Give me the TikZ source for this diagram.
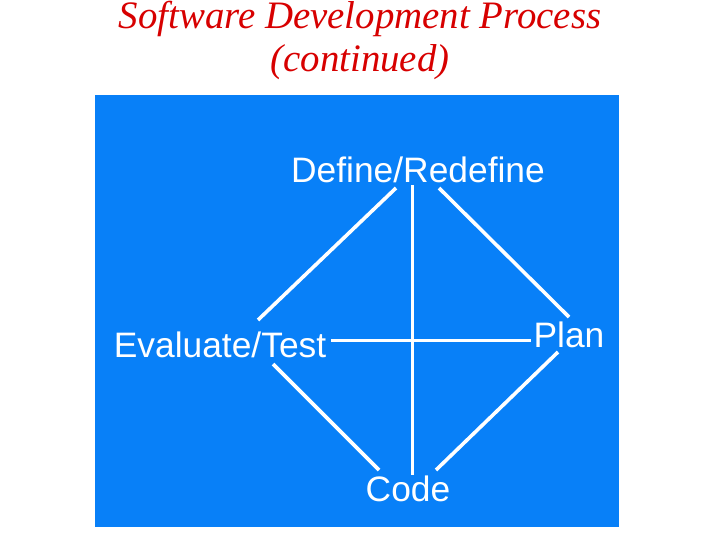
\documentclass[tikz,border=0pt]{standalone}
\usepackage{fontspec}
\setmainfont{Liberation Serif}
\newfontfamily\labelfont{Liberation Sans}
\usetikzlibrary{calc}
\definecolor{panelblue}{RGB}{8,128,248}
\definecolor{titlered}{RGB}{215,0,0}
\tikzset{
  titletext/.style={font=\fontsize{39}{44}\selectfont\itshape, text=titlered, inner sep=0pt, anchor=base},
  steplabel/.style={font=\labelfont\fontsize{35.5}{40}\selectfont, text=white, inner sep=0pt, anchor=base},
  link/.style={draw=white, line width=3.6bp}
}
\begin{document}
\begin{tikzpicture}[x=1bp, y=-1bp]
\useasboundingbox (0,0) rectangle (720,540);
\fill[panelblue] (95,95) rectangle (619,527);
\node[titletext] (t1) at (360,29) {Software Development Process};
\node[titletext] (t2) at (360,72) {(continued)};
\node[steplabel] (def) at (418,183) {Define/Redefine};
\node[steplabel] (eval) at (220,357) {Evaluate/Test};
\node[steplabel] (plan) at (569,347) {Plan};
\node[steplabel] (code) at (408,501) {Code};
% diagonals
\draw[link] ($(def.base)+(-22,5)$) -- ($(eval.base)+(38,-37)$);
\draw[link] ($(def.base)+(21,5)$) -- ($(plan.base)+(0,-30)$);
\draw[link] ($(eval.base)+(53,7)$) -- ($(code.base)+(-29,-31)$);
\draw[link] ($(plan.base)+(-11,5)$) -- ($(code.base)+(28,-31)$);
% cross
\draw[link, line width=3bp] ($(def.base)+(-6,2)$) -- ($(code.base)+(4,-26)$);
\draw[link, line width=3bp] ($(eval.base)+(111,-17)$) -- ($(plan.base)+(-38,-7)$);
\end{tikzpicture}
\end{document}
